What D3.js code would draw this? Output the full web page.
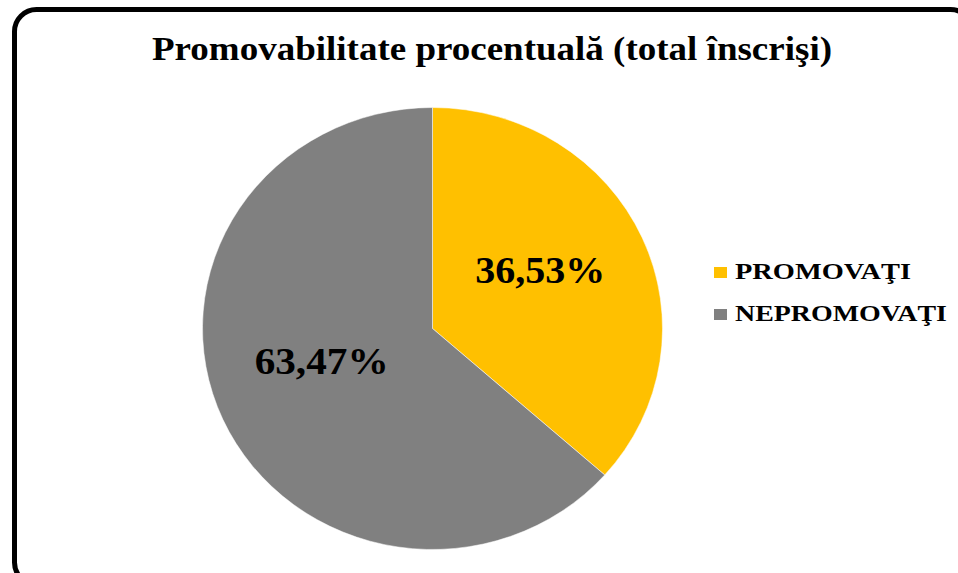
<!DOCTYPE html>
<html>
<head>
<meta charset="utf-8">
<script src="https://cdn.jsdelivr.net/npm/d3@7"></script>
<style>
  body { margin: 0; background: #fff; }
  text { font-family: "Liberation Serif", "Times New Roman", serif; font-weight: bold; }
</style>
</head>
<body>
<svg id="chart" width="958" height="573"></svg>
<script>
// data
var categories = ['PROMOVAŢI', 'NEPROMOVAŢI'];
var values = [36.53, 63.47];
var colors = ['#FFC000', '#808080'];
var titleText = 'Promovabilitate procentuală (total înscrişi)';

var svg = d3.select('#chart');

// frame
svg.append('rect')
  .attr('x', 14.5).attr('y', 9.5)
  .attr('width', 958).attr('height', 575)
  .attr('rx', 22).attr('ry', 22)
  .attr('fill', '#fff')
  .attr('stroke', '#000')
  .attr('stroke-width', 5);

// the original picture is stretched sideways, so text gets a fixed length
svg.append('text')
  .attr('x', 152).attr('y', 60)
  .attr('font-size', 33)
  .attr('textLength', 680)
  .attr('lengthAdjust', 'spacingAndGlyphs')
  .text(titleText);

var cx = 432.5, cy = 328.5, ry = 221, rx = 230;

var pie = d3.pie().sort(null).value(function(d) { return d; });
var arc = d3.arc().innerRadius(0).outerRadius(ry);
var arcs = pie(values);

var g = svg.append('g')
  .attr('transform', 'translate(' + cx + ',' + cy + ') scale(' + (rx / ry) + ',1)');

g.selectAll('path')
  .data(arcs)
  .enter().append('path')
  .attr('d', arc)
  .attr('fill', function(d, i) { return colors[i]; })
  .attr('stroke', '#fff')
  .attr('stroke-width', 0.5);

// value labels, baseline at the slice centroid
svg.selectAll('text.val')
  .data(arcs)
  .enter().append('text')
  .attr('class', 'val')
  .attr('x', function(d, i) { return cx + arc.centroid(d)[0] * rx / ry + (i === 0 ? 4 : -7) - 66; })
  .attr('y', function(d) { return cy + arc.centroid(d)[1]; })
  .attr('font-size', 38)
  .attr('textLength', function(d, i) { return i === 0 ? 130 : 134; })
  .attr('lengthAdjust', 'spacingAndGlyphs')
  .text(function(d) { return d3.format('.2f')(d.data).replace('.', ',') + '%'; });

// legend
var legend = svg.selectAll('g.leg')
  .data(categories)
  .enter().append('g')
  .attr('class', 'leg')
  .attr('transform', function(d, i) { return 'translate(714,' + (267 + i * 42) + ')'; });

legend.append('rect')
  .attr('width', 13).attr('height', 11)
  .attr('fill', function(d, i) { return colors[i]; });

legend.append('text')
  .attr('x', 21).attr('y', 11.5)
  .attr('font-size', 23)
  .attr('textLength', function(d, i) { return i === 0 ? 176 : 212; })
  .attr('lengthAdjust', 'spacingAndGlyphs')
  .text(function(d) { return d; });
</script>
</body>
</html>
